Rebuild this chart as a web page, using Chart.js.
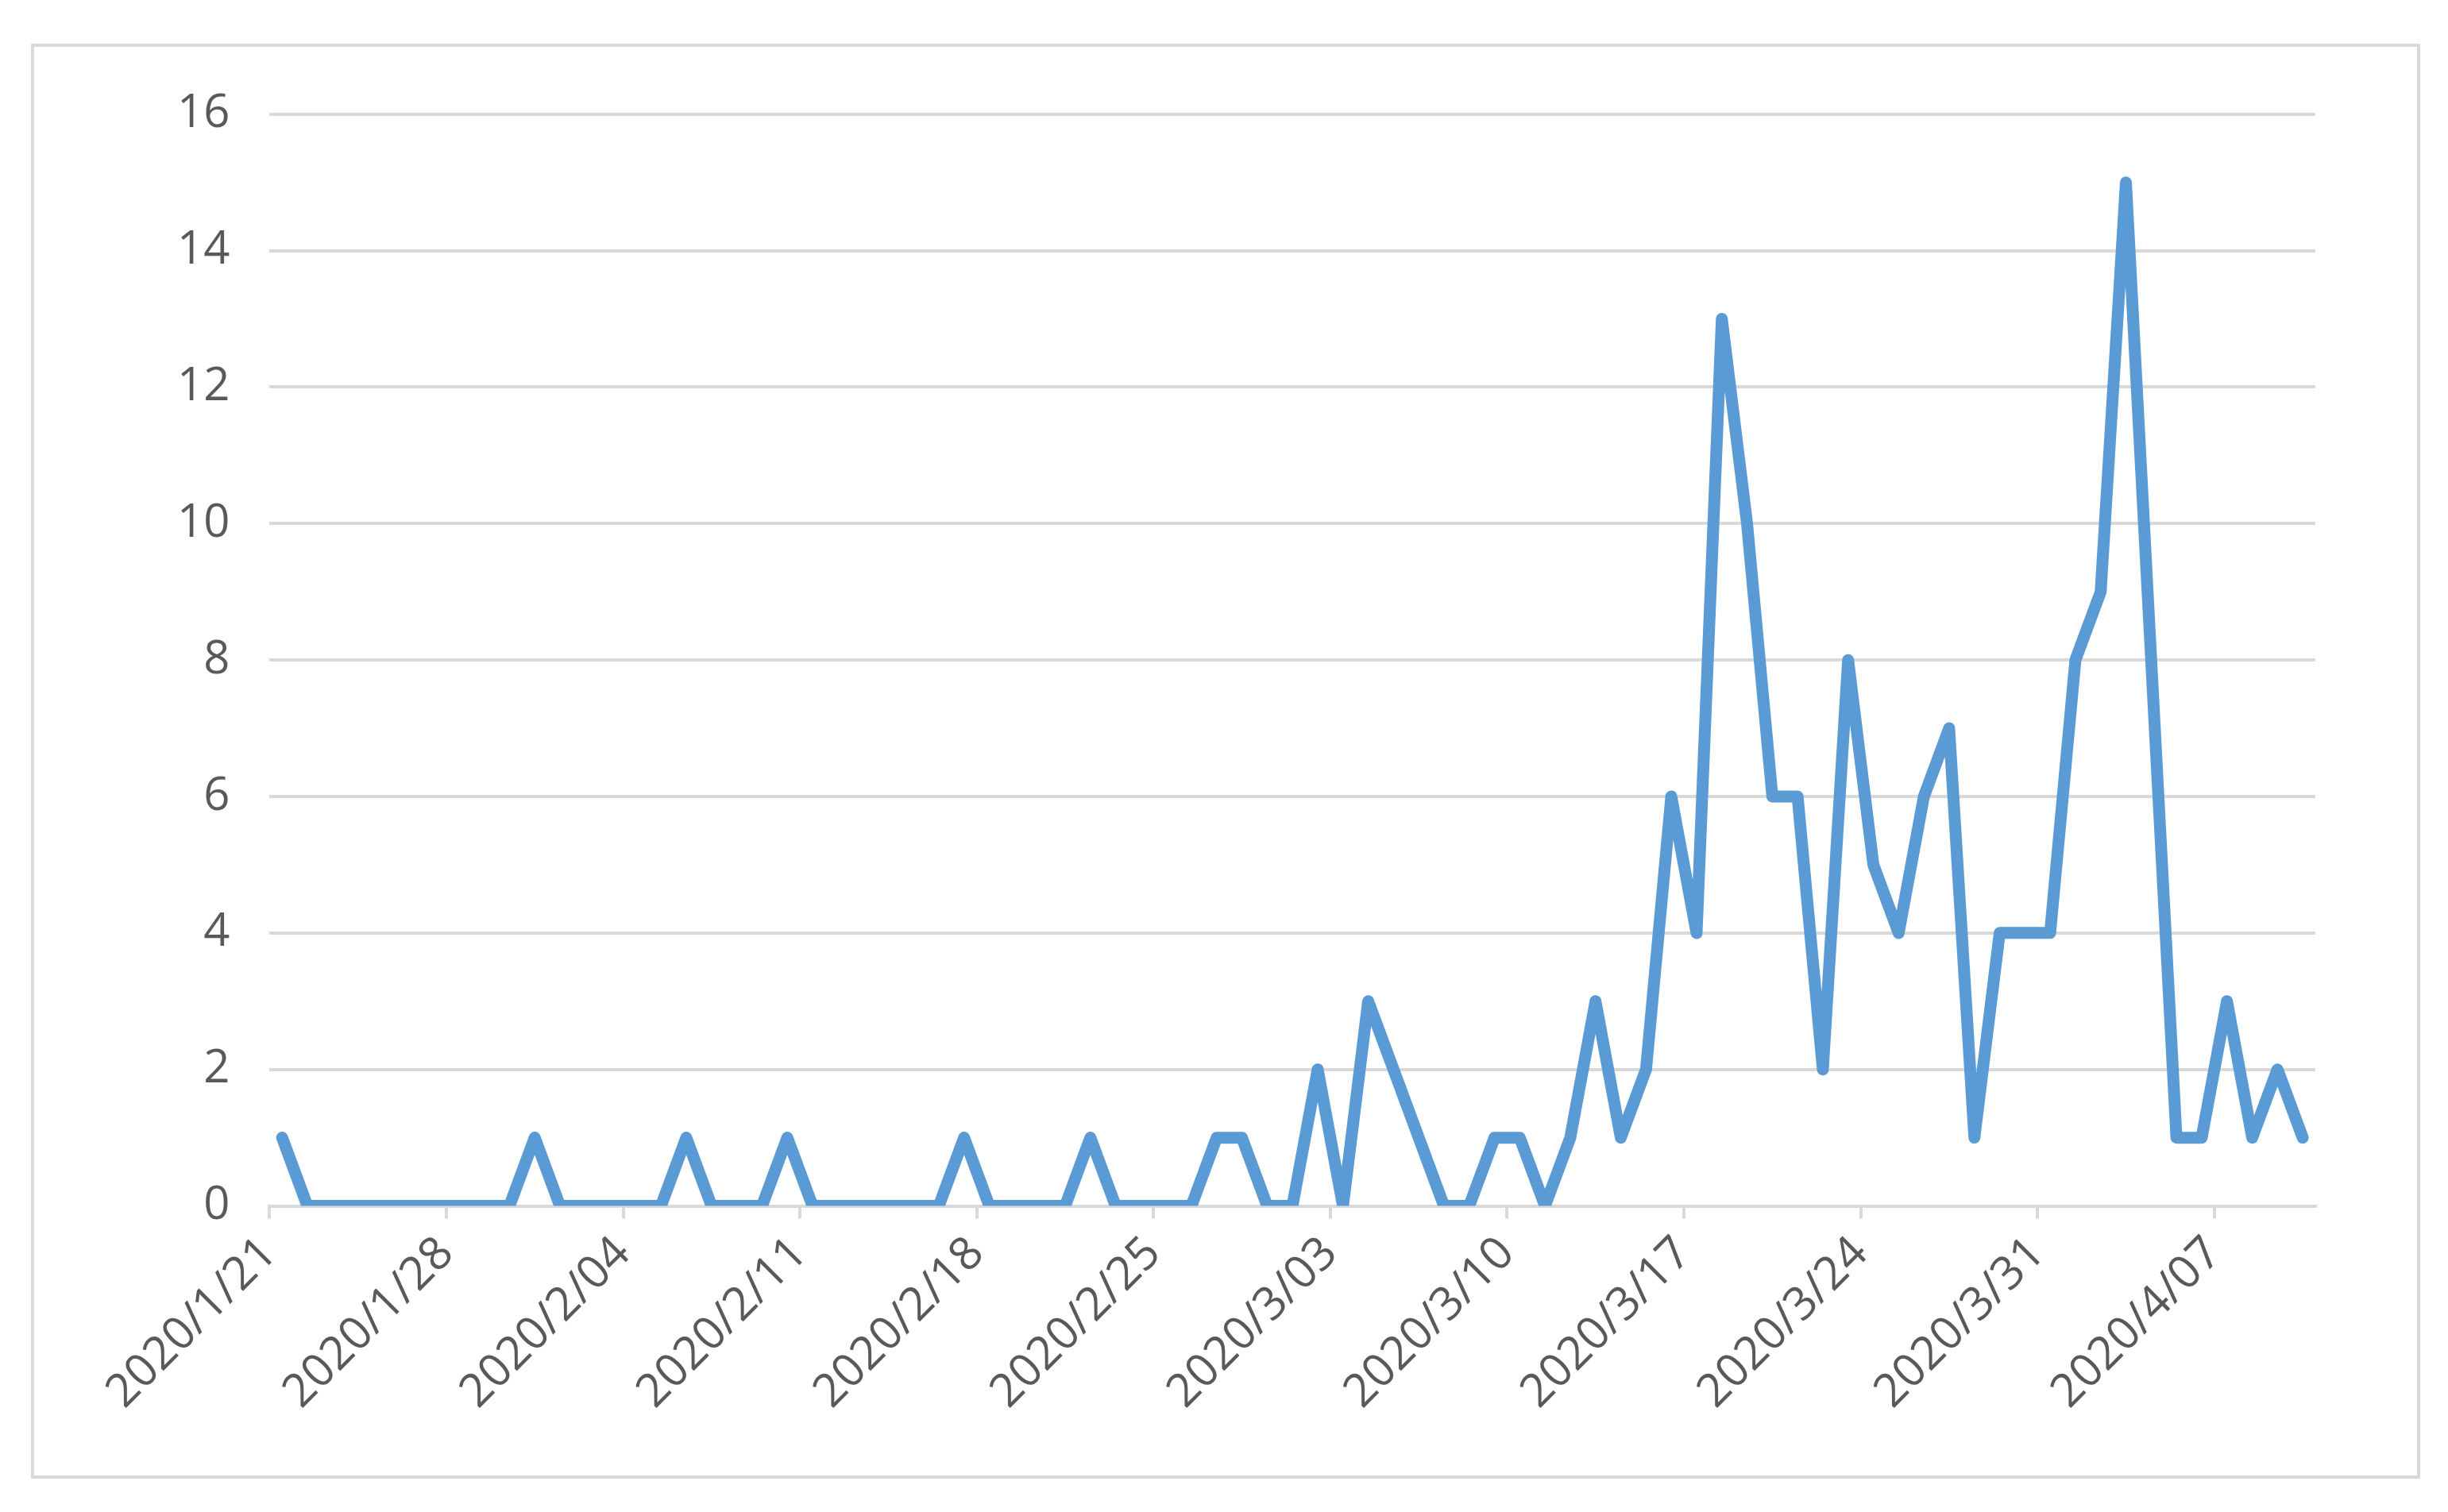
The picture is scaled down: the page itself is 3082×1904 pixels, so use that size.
<!DOCTYPE html>
<html><head><meta charset="utf-8">
<script src="https://cdn.jsdelivr.net/npm/chart.js@4/dist/chart.umd.min.js"></script>
<style>
html,body{margin:0;background:#fff;}
#box{position:absolute;left:39px;top:55px;width:3000px;height:1799px;border:4px solid #d9d9d9;}
</style></head><body>
<div id="box"><canvas id="c"></canvas></div>
<script>
const tickLabels=["2020/1/21","2020/1/28","2020/2/04","2020/2/11","2020/2/18","2020/2/25","2020/3/03","2020/3/10","2020/3/17","2020/3/24","2020/3/31","2020/4/07"];
const values=[1,0,0,0,0,0,0,0,0,0,1,0,0,0,0,0,1,0,0,0,1,0,0,0,0,0,0,1,0,0,0,0,1,0,0,0,0,1,1,0,0,2,0,3,2,1,0,0,1,1,0,1,3,1,2,6,4,13,10,6,6,2,8,5,4,6,7,1,4,4,4,8,9,15,8,1,1,3,1,2,1];
const yTicks=[0,2,4,6,8,10,12,14,16];
const pts=values.map((v,i)=>({x:i,y:v}));
const F='"Open Sans", sans-serif';
new Chart(document.getElementById('c'),{
 type:'line',
 data:{datasets:[{data:pts,borderColor:'#5B9BD5',borderWidth:15,pointRadius:0,tension:0,borderJoinStyle:'round',borderCapStyle:'round'}]},
 options:{responsive:true,maintainAspectRatio:false,animation:false,
  layout:{padding:{left:130,right:128,top:78,bottom:60}},
  plugins:{legend:{display:false},tooltip:{enabled:false}},
  scales:{
   x:{type:'linear',min:-0.5,max:80.5,
    afterBuildTicks:a=>{a.ticks=tickLabels.map((_,i)=>({value:-0.5+7*i}));},
    ticks:{autoSkip:false,maxRotation:45,minRotation:45,color:'#595959',font:{family:F,size:58},padding:10,
     callback:(v,i)=>tickLabels[i]},
    grid:{drawOnChartArea:false,drawTicks:true,tickLength:16,color:'#d9d9d9',lineWidth:4},
    border:{color:'#d9d9d9',width:4}},
   y:{min:0,max:16,
    afterBuildTicks:a=>{a.ticks=yTicks.map(v=>({value:v}));},
    ticks:{color:'#595959',font:{family:F,size:58},padding:50},
    grid:{color:'#d9d9d9',lineWidth:4,drawTicks:false},
    border:{display:false}}
  }}
});
</script></body></html>
